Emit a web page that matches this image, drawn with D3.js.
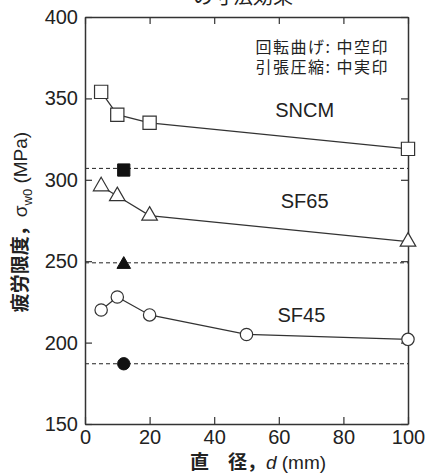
<!DOCTYPE html>
<html>
<head>
<meta charset="utf-8">
<script src="https://cdn.jsdelivr.net/npm/d3@7"></script>
<style>
  body { margin: 0; background: #fff; }
  text { font-family: "Liberation Sans", Arial, sans-serif; fill: #222; }
  .jp { font-family: "Noto Sans CJK JP", sans-serif; }
</style>
</head>
<body>
<svg id="chart" width="428" height="473"></svg>
<script>
// rotating bending (open marks)
const sncmD = [5, 10, 20, 100];
const sncmV = [354, 340, 335, 319];
const sf65D = [5, 10, 20, 100];
const sf65V = [296, 290, 278, 262];
const sf45D = [5, 10, 20, 50, 100];
const sf45V = [220, 228, 217, 205, 202];
// tension-compression (filled marks + dashed level)
const pushPullD = 12;
const pushPullV = [306, 248, 187];
const pushPullLevel = [307, 249, 187];
const seriesNames = ['SNCM', 'SF65', 'SF45'];
const xTicks = [0, 20, 40, 60, 80, 100];
const yTicks = [150, 200, 250, 300, 350, 400];

const svg = d3.select('#chart');
const m = {left: 85, right: 20, top: 17, bottom: 49};
const W = 428, H = 473;

const x = d3.scaleLinear().domain([0, 100]).range([m.left, W - m.right]);
const y = d3.scaleLinear().domain([150, 400]).range([H - m.bottom, m.top]);

// title, cut off at the very top like the source
svg.append('text').attr('class', 'jp')
    .attr('x', 243).attr('y', 4)
    .attr('text-anchor', 'middle')
    .style('font-size', '20px')
    .text('の寸法効果');

// dashed push-pull levels
svg.selectAll('.level').data(pushPullLevel).enter().append('line')
    .attr('class', 'level')
    .attr('x1', x(0)).attr('x2', x(100))
    .attr('y1', d => y(d)).attr('y2', d => y(d))
    .attr('stroke', '#222').attr('stroke-width', 1)
    .attr('stroke-dasharray', '4,3');

// axes, ticks inward on all sides
const axB = d3.axisBottom(x).tickValues(xTicks).tickSizeInner(-7).tickSizeOuter(0).tickPadding(6);
const axT = d3.axisTop(x).tickValues(xTicks).tickSizeInner(-7).tickSizeOuter(0).tickFormat('');
const axL = d3.axisLeft(y).tickValues(yTicks).tickSizeInner(-7).tickSizeOuter(0).tickPadding(7);
const axR = d3.axisRight(y).tickValues(yTicks).tickSizeInner(-7).tickSizeOuter(0).tickFormat('');

[[axB, `translate(0,${y(150)})`], [axT, `translate(0,${y(400)})`],
 [axL, `translate(${x(0)},0)`], [axR, `translate(${x(100)},0)`]].forEach(([ax, tr]) => {
    const g = svg.append('g').attr('transform', tr).call(ax);
    g.select('.domain').attr('stroke', '#333').attr('stroke-width', 1.5);
    g.selectAll('.tick line').attr('stroke', '#333').attr('stroke-width', 1.2);
    g.selectAll('.tick text').style('font-size', '20px').attr('fill', '#222')
        .style('font-family', '"Liberation Sans", Arial, sans-serif');
});

const line = d3.line().x(d => x(d[0])).y(d => y(d[1]));
const sets = [
    d3.zip(sncmD, sncmV),
    d3.zip(sf65D, sf65V),
    d3.zip(sf45D, sf45V)
];
sets.forEach(pts => {
    svg.append('path').attr('d', line(pts))
        .attr('fill', 'none').attr('stroke', '#333').attr('stroke-width', 1.2);
});

const symbols = [d3.symbolSquare, d3.symbolTriangle, d3.symbolCircle];
const sizes = [175, 105, 120];
sets.forEach((pts, i) => {
    svg.selectAll('.m' + i).data(pts).enter().append('path')
        .attr('d', d3.symbol().type(symbols[i]).size(sizes[i]))
        .attr('transform', d => `translate(${x(d[0])},${y(d[1])})`)
        .attr('fill', '#fff').attr('stroke', '#333').attr('stroke-width', 1.2);
});

// filled push-pull marks
const filledSizes = [150, 80, 120];
pushPullV.forEach((v, i) => {
    svg.append('path')
        .attr('d', d3.symbol().type(symbols[i]).size(filledSizes[i]))
        .attr('transform', `translate(${x(pushPullD)},${y(v)})`)
        .attr('fill', '#111').attr('stroke', '#111');
});

// series labels
const labelPos = [[68, 342], [68, 286], [67, 216]];
seriesNames.forEach((n, i) => {
    svg.append('text')
        .attr('x', x(labelPos[i][0])).attr('y', y(labelPos[i][1]))
        .attr('text-anchor', 'middle').attr('dominant-baseline', 'middle')
        .style('font-size', '20px').text(n);
});

// legend note
svg.append('text').attr('class', 'jp').attr('x', 389).attr('y', 53)
    .attr('text-anchor', 'end').style('font-size', '16px').style('letter-spacing', '1.5px')
    .text('回転曲げ: 中空印');
svg.append('text').attr('class', 'jp').attr('x', 389).attr('y', 73)
    .attr('text-anchor', 'end').style('font-size', '16px').style('letter-spacing', '1.5px')
    .text('引張圧縮: 中実印');

// x label
const xl = svg.append('text').attr('x', 258).attr('y', 469)
    .attr('text-anchor', 'middle').style('font-size', '19px');
xl.append('tspan').attr('class', 'jp').style('font-weight', 'bold').text('直　径，');
xl.append('tspan').style('font-style', 'italic').text('d');
xl.append('tspan').text(' (mm)');

// y label
const yl = svg.append('text')
    .attr('transform', 'translate(27,222) rotate(-90)')
    .attr('text-anchor', 'middle').style('font-size', '19px');
yl.append('tspan').attr('class', 'jp').style('font-weight', 'bold').text('疲労限度，');
yl.append('tspan').text('σ');
yl.append('tspan').attr('dy', 5).style('font-size', '13px').text('w0');
yl.append('tspan').attr('dy', -5).text(' (MPa)');
</script>
</body>
</html>
